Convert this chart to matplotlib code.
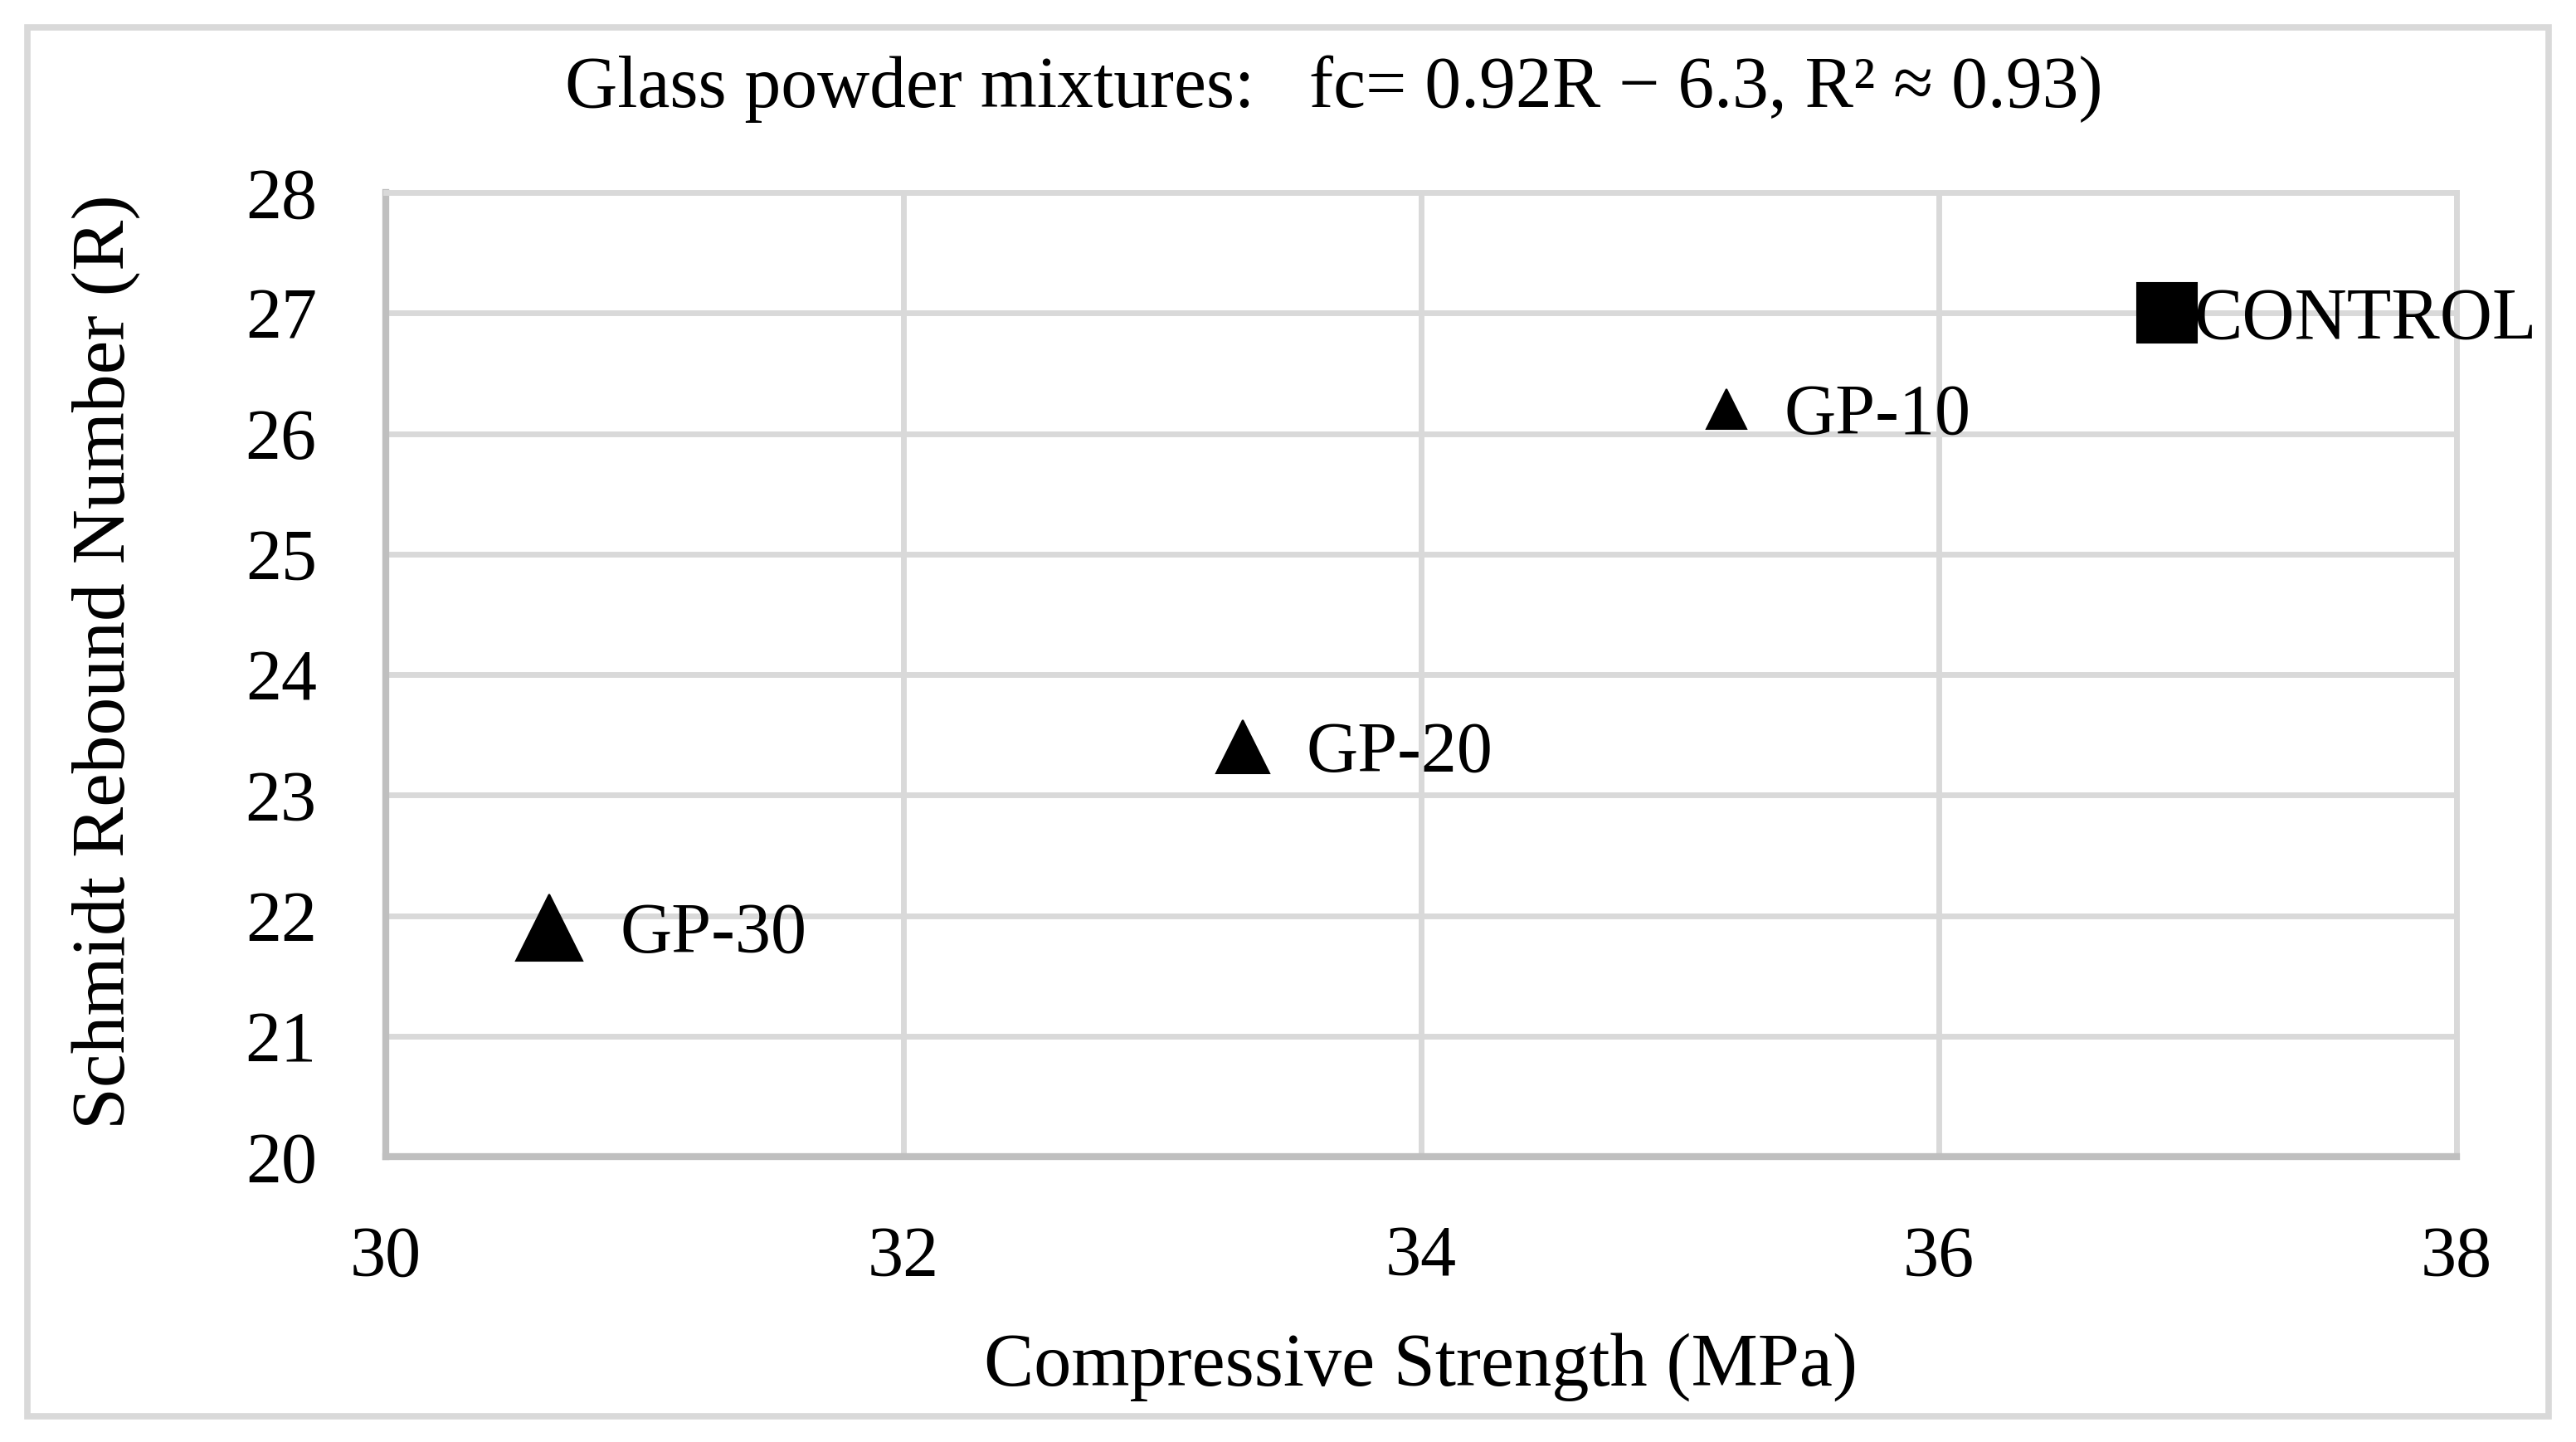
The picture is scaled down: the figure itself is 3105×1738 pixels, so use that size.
import matplotlib.pyplot as plt
from matplotlib.patches import Rectangle

# valores
mezclas = ['CONTROL', 'GP-10', 'GP-20', 'GP-30']
resistencia = [36.88, 35.18, 33.31, 30.63]   # MPa
rebote = [27.0, 26.2, 23.4, 21.9]            # R

x_ticks = [30, 32, 34, 36, 38]
y_ticks = [20, 21, 22, 23, 24, 25, 26, 27, 28]

titulo = 'Glass powder mixtures:   fc= 0.92R \u2212 6.3, R\u00b2 \u2248 0.93)'

# estilo de cada punto
marcadores = ['s', '^', '^', '^']
tamanos = [52, 34, 46, 57]
desplaz = [24, 50, 55, 62]

plt.rcParams['font.family'] = ['Liberation Serif', 'DejaVu Serif']
fs = 62
gris_rejilla = '#d9d9d9'
gris_eje = '#bfbfbf'

fig = plt.figure(figsize=(31.05, 17.38), dpi=100)
ax = fig.add_axes([0.1498, 0.1979, 0.9536 - 0.1498, 0.8665 - 0.1979])

for x, y, m, s, d, lab in zip(resistencia, rebote, marcadores, tamanos, desplaz, mezclas):
    ax.plot([x], [y], marker=m, ms=s, color='black', mew=1.5, mec='black',
            linestyle='none', zorder=3, solid_joinstyle='round')
    ax.annotate(lab, xy=(x, y), xytext=(d, -6), textcoords='offset points',
                va='center', ha='left', fontsize=fs + (1 if lab == 'CONTROL' else 0),
                zorder=4, annotation_clip=False)

ax.set_xlim(30, 38)
ax.set_ylim(20, 28)
ax.set_xticks(x_ticks)
ax.set_yticks(y_ticks)
ax.tick_params(length=0, labelsize=fs, pad=60)
ax.grid(True, color=gris_rejilla, linewidth=5)
ax.set_axisbelow(True)
for lado in ['top', 'right']:
    ax.spines[lado].set_color(gris_rejilla)
    ax.spines[lado].set_linewidth(5)
for lado in ['left', 'bottom']:
    ax.spines[lado].set_color(gris_eje)
    ax.spines[lado].set_linewidth(6)

fig.text(1713 / 3105, 1 - 1648 / 1738, 'Compressive Strength (MPa)', fontsize=65,
         ha='center', va='center')
fig.text(128 / 3105, 1 - 798 / 1738, 'Schmidt Rebound Number (R)', fontsize=66,
         ha='center', va='center', rotation=90)
fig.text(1608 / 3105, 1 - 107 / 1738, titulo, fontsize=63, ha='center', va='center')

fig.patches.append(Rectangle((0.0106, 0.0178), 0.9788, 0.9632, transform=fig.transFigure,
                             fill=False, edgecolor=gris_rejilla, linewidth=5.5))

fig.savefig('out.png', dpi=100, facecolor='white')
